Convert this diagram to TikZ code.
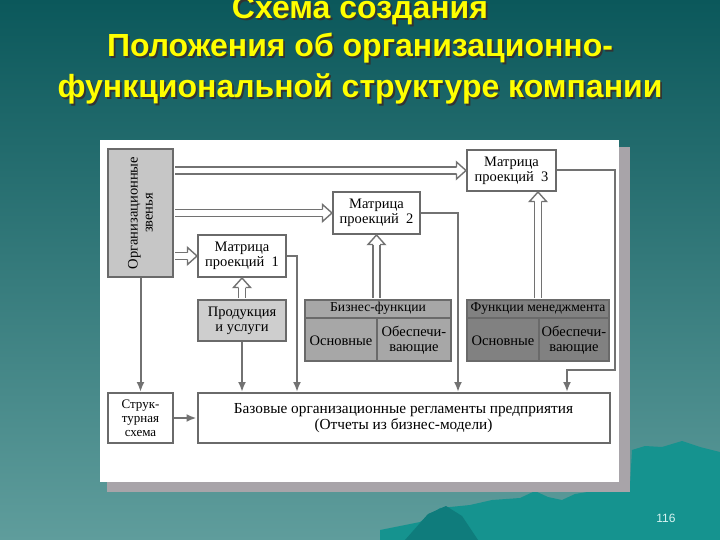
\documentclass[tikz,border=0pt]{standalone}
\usepackage{fontspec}
\setmainfont{Liberation Serif}
\newfontfamily\headfont{Liberation Sans}
\usepackage{xcolor}
\usetikzlibrary{positioning}
\usetikzlibrary{arrows.meta}
\usetikzlibrary{calc}
\definecolor{bgtop}{HTML}{0B585B}
\definecolor{bgbottom}{HTML}{5F9D9C}
\definecolor{hill}{HTML}{15938F}
\definecolor{hilldark}{HTML}{0F7C7C}
\definecolor{shadowgray}{HTML}{A8A4A9}
\definecolor{linegray}{HTML}{727272}
\definecolor{boxgray}{HTML}{6A6A6A}
\definecolor{orgfill}{HTML}{C6C6C6}
\definecolor{prodfill}{HTML}{CECECE}
\definecolor{bffill}{HTML}{A7A7A7}
\definecolor{mffill}{HTML}{818181}
\definecolor{titleyellow}{HTML}{FFFF00}
\definecolor{pagecol}{HTML}{D8F4F2}
\newcommand\Shadowed[1]{\makebox[0pt][l]{\raisebox{-1.8pt}[0pt][0pt]{\hspace{1.8pt}\textcolor{black!80}{#1}}}#1}

\begin{document}
\begin{tikzpicture}[x=1pt,y=-1pt,
  box/.style={draw=boxgray,line width=2pt,fill=white,inner sep=1pt,align=center,
    font=\fontsize{14.5}{15}\selectfont},
  conn/.style={draw=linegray,line width=2pt,-{Latex[length=10pt,width=8pt]}},
  hshaft/.style={draw=linegray,line width=1.4pt,double=white,double distance=5.6pt},
  hhead/.style={draw=linegray,line width=1.4pt,fill=white},
  divline/.style={draw=boxgray,line width=1.6pt},
  celltext/.style={align=center,inner sep=0pt,font=\fontsize{14.5}{15}\selectfont},
  headtext/.style={celltext,font=\fontsize{13.6}{14}\selectfont},
  titletext/.style={anchor=base,text=titleyellow,font=\headfont\bfseries\fontsize{32}{32}\selectfont},
]
\newcommand\Hollow[2]{%
  \coordinate (hb) at ($(#2)!9.5pt!(#1)$);
  \coordinate (ht) at (#2);
  \draw[hshaft,shorten <=1pt] (#1) -- (hb);
  \filldraw[hhead] ($(hb)!3.5pt!90:(ht)$) -- ($(hb)!8.5pt!90:(ht)$) -- (ht)
    -- ($(hb)!8.5pt!-90:(ht)$) -- ($(hb)!3.5pt!-90:(ht)$);
}
\useasboundingbox (0,0) rectangle (720,540);
\shade[top color=bgtop,bottom color=bgbottom] (0,0) rectangle (720,540);

\fill[hill] (380,540) -- (380,530) -- (420,522) -- (440,508) -- (470,505) -- (492,500)
  -- (520,498) -- (535,491) -- (548,497) -- (562,500) -- (575,494) -- (600,490)
  -- (630,485) -- (632,450) -- (645,446) -- (662,447) -- (682,441) -- (700,447)
  -- (720,452) -- (720,540) -- cycle;
\fill[hilldark] (405,540) -- (428,514) -- (446,506) -- (462,516) -- (478,540) -- cycle;

\foreach \txt/\yb [count=\i] in {Схема создания/19,Положения об организационно-/57,функциональной структуре компании/98}{
  \node[titletext] (title\i) at (360,\yb) {\Shadowed{\txt}};
}

\fill[shadowgray] (107,147) rectangle (630,492);
\fill[white] (100,140) rectangle (619,482);

\node[box,fill=orgfill,minimum width=65pt,minimum height=128pt] (org) at (140.5,213) {};
\node[celltext,rotate=90] (orgtext) at (org.center) {Организационные\\звенья};
\node[box,minimum width=88pt,minimum height=42pt] (m1) at (242,256) {Матрица\\проекций\enspace 1};
\node[box,minimum width=87pt,minimum height=42pt] (m2) at (376.5,213) {Матрица\\проекций\enspace 2};
\node[box,minimum width=89pt,minimum height=41pt] (m3) at (511.5,170.5) {Матрица\\проекций\enspace 3};
\node[box,fill=prodfill,minimum width=88pt,minimum height=41pt] (prod) at (242,320.5) {Продукция\\и услуги};

\node[box,fill=bffill,minimum width=146pt,minimum height=61pt] (bf) at (378,330.5) {};
\node[headtext] (bfhead) at ($(bf.north)+(0,9.5)$) {Бизнес-функции};
\draw[divline] ($(bf.north west)+(0,19)$) -- ($(bf.north east)+(0,19)$);
\draw[divline] (377,319) -- (377,361);
\node[celltext] (bfmain) at (341,341) {Основные};
\node[celltext] (bfaux) at (414,340) {Обеспечи-\\вающие};

\node[box,fill=mffill,minimum width=142pt,minimum height=61pt] (mf) at (538,330.5) {};
\node[headtext] (mfhead) at ($(mf.north)+(0,9.5)$) {Функции менеджмента};
\draw[divline] ($(mf.north west)+(0,19)$) -- ($(mf.north east)+(0,19)$);
\draw[divline] (539,319) -- (539,361);
\node[celltext] (mfmain) at (503,341) {Основные};
\node[celltext] (mfaux) at (574,340) {Обеспечи-\\вающие};

\node[box,minimum width=65pt,minimum height=50pt,font=\fontsize{13}{14}\selectfont] (struct) at (140.5,418) {Струк-\\турная\\схема};
\node[box,minimum width=412pt,minimum height=50pt,font=\fontsize{15.3}{15.5}\selectfont] (base) at (403.5,418) {Базовые организационные регламенты предприятия\\(Отчеты из бизнес-модели)};

\Hollow{org.east |- m3.west}{m3.west}
\Hollow{org.east |- m2.west}{m2.west}
\Hollow{org.east |- m1.west}{m1.west}
\Hollow{prod.north}{m1.south}
\Hollow{m2.south |- bf.north}{m2.south}
\Hollow{mf.north}{mf.north |- m3.south}

\coordinate (m1turn) at (297,0);
\coordinate (m2turn) at (458,0);
\coordinate (m3turn) at (615,370);
\coordinate (m3drop) at (567,370);
\draw[conn] (org.south) -- (struct.north);
\draw[conn] (prod.south) -- (prod.south |- base.north);
\draw[conn] (m1.east) -| (m1turn |- base.north);
\draw[conn] (m2.east) -| (m2turn |- base.north);
\draw[conn] (m3.east) -| (m3turn) -- (m3drop) -- (m3drop |- base.north);
\draw[conn] (struct.east) -- (base.west);

\node[text=pagecol,font=\headfont\fontsize{12}{12}\selectfont] (pagenum) at (666,518) {116};
\end{tikzpicture}
\end{document}
